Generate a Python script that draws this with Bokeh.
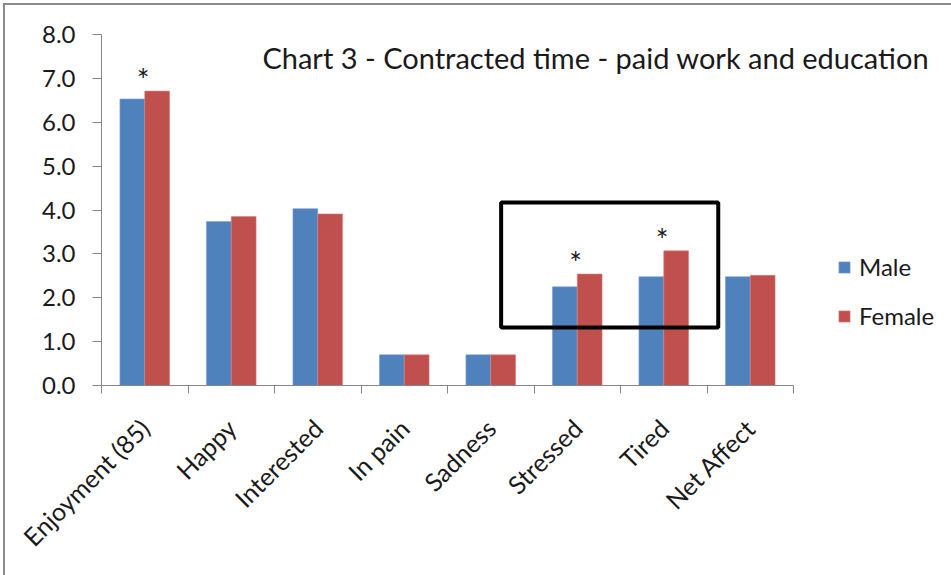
import math
import numpy as np
from bokeh.plotting import figure
from bokeh.models import (FixedTicker, NumeralTickFormatter, Legend, LegendItem,
                          Label, BoxAnnotation, ColumnDataSource)
from bokeh.core.properties import value
from bokeh.embed import file_html
from bokeh.resources import INLINE

# Mean ratings by affect measure, split by sex
categories = ["Enjoyment (85)", "Happy", "Interested", "In pain", "Sadness",
              "Stressed", "Tired", "Net Affect"]
male = [6.53, 3.74, 4.03, 0.70, 0.70, 2.25, 2.48, 2.48]
female = [6.71, 3.85, 3.91, 0.70, 0.70, 2.54, 3.07, 2.51]
# Measures where the male/female gap is significant
significant = ["Enjoyment (85)", "Stressed", "Tired"]
y_ticks = [0, 1, 2, 3, 4, 5, 6, 7, 8]

FONT = "Lato"
BLUE = "#4F81BD"
RED = "#C0504D"
AXIS = "#868686"
INK = "#1a1a1a"

n = len(categories)
centers = np.arange(n) + 0.5
bar_w = 0.287

# The plot frame runs to the right edge so that the title and legend fit in it;
# the x axis itself is bounded to the categories.
px_per_cat = 86.5
frame_w = 951 - 101
p = figure(width=951, height=575, x_range=(0, frame_w / px_per_cat), y_range=(0, 8),
           output_backend="svg", toolbar_location=None,
           min_border_left=101, min_border_right=0,
           min_border_top=34, min_border_bottom=190)
p.styles = {"box-shadow": "inset 3px 3px 0 0 white, inset 5px 5px 0 0 #8c8c8c"}
p.outline_line_color = None
p.grid.visible = False
p.background_fill_color = "white"
p.border_fill_color = None

src = ColumnDataSource(dict(xm=centers - bar_w / 2, xf=centers + bar_w / 2,
                            male=male, female=female))
r_m = p.vbar(x="xm", top="male", width=bar_w, source=src, fill_color=BLUE,
             line_color="#7FA3D0", line_width=0.6)
r_f = p.vbar(x="xf", top="female", width=bar_w, source=src, fill_color=RED,
             line_color="#D98280", line_width=0.6)

# Significance markers above the pairs
sig_idx = [categories.index(c) for c in significant]
p.text(x=[centers[i] - 0.02 for i in sig_idx],
       y=[female[i] + 0.27 for i in sig_idx],
       text=["*"] * len(sig_idx), text_align="center", text_baseline="middle",
       text_font=value(FONT), text_font_size="30px", text_color=INK)

# Highlight box around Stressed / Tired
p.add_layout(BoxAnnotation(left=4.62, right=7.13, bottom=1.32, top=4.17,
                           fill_color=None, line_color="black", line_alpha=1.0,
                           line_width=4))

p.add_layout(Label(x=1.86, y=7.47, text="Chart 3 - Contracted time - paid work and education",
                   text_baseline="middle", text_font=FONT, text_font_size="29px",
                   text_color=INK))

# x axis: labels at bar-group centers, tick marks at category boundaries
xa = p.xaxis[0]
xa.bounds = (0, n)
xa.ticker = FixedTicker(ticks=list(centers), minor_ticks=list(range(n + 1)))
xa.major_label_overrides = {float(c): lab for c, lab in zip(centers, categories)}
xa.major_label_orientation = math.pi / 4
xa.major_tick_line_color = None
xa.major_tick_out = 0
xa.major_tick_in = 0
xa.minor_tick_out = 8
xa.minor_tick_in = 0
xa.minor_tick_line_color = AXIS
xa.axis_line_color = AXIS
xa.major_label_text_font = FONT
xa.major_label_text_font_size = "25px"
xa.major_label_text_color = INK
xa.major_label_standoff = 30

ya = p.yaxis[0]
ya.ticker = FixedTicker(ticks=y_ticks, minor_ticks=[])
ya.formatter = NumeralTickFormatter(format="0.0")
ya.major_tick_out = 9
ya.major_tick_in = 0
ya.major_tick_line_color = AXIS
ya.axis_line_color = AXIS
ya.major_label_text_font = FONT
ya.major_label_text_font_size = "24px"
ya.major_label_text_color = INK
ya.major_label_standoff = 17

legend = Legend(items=[LegendItem(label="Male", renderers=[r_m]),
                       LegendItem(label="Female", renderers=[r_f])],
                location=(736, 55), padding=0, margin=0, spacing=20,
                glyph_width=14, glyph_height=14, label_standoff=8,
                label_text_font=FONT, label_text_font_size="24px",
                label_text_color=INK, border_line_color=None,
                background_fill_alpha=0)
p.add_layout(legend, "center")

open("out.html", "w").write(file_html(p, INLINE))
